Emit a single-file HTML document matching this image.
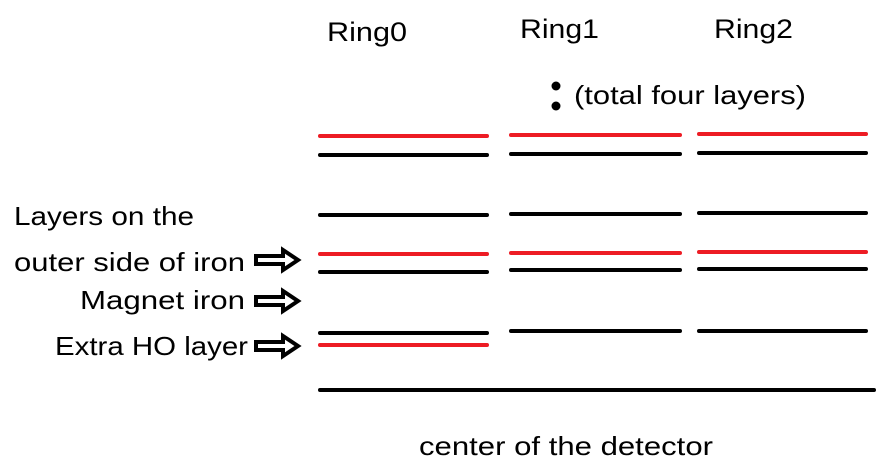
<!DOCTYPE html>
<html><head><meta charset="utf-8"><style>
html,body{margin:0;padding:0;background:#fff;}
svg{display:block;font-family:"Liberation Sans","DejaVu Sans",sans-serif;}
</style></head><body>
<svg id="c" width="890" height="474" viewBox="0 0 890 474">
<text x="327" y="41" font-size="27" textLength="80" lengthAdjust="spacingAndGlyphs">Ring0</text>
<text x="520" y="38" font-size="27" textLength="79" lengthAdjust="spacingAndGlyphs">Ring1</text>
<text x="714" y="38" font-size="27" textLength="79" lengthAdjust="spacingAndGlyphs">Ring2</text>
<circle cx="556" cy="86" r="4.5" fill="#000"/>
<circle cx="556" cy="106" r="4.5" fill="#000"/>
<text x="574" y="104" font-size="26" textLength="232" lengthAdjust="spacingAndGlyphs">(total four layers)</text>
<text x="14" y="225" font-size="26" textLength="180" lengthAdjust="spacingAndGlyphs">Layers on the</text>
<text x="14" y="271" font-size="26" textLength="231" lengthAdjust="spacingAndGlyphs">outer side of iron</text>
<text x="80" y="309" font-size="26" textLength="165" lengthAdjust="spacingAndGlyphs">Magnet iron</text>
<text x="55" y="355" font-size="26" textLength="193" lengthAdjust="spacingAndGlyphs">Extra HO layer</text>
<text x="419" y="455" font-size="26" textLength="294" lengthAdjust="spacingAndGlyphs">center of the detector</text>
<g id="arrows"></g>
<g id="layers"></g>
<line x1="320" y1="390" x2="874" y2="390" stroke="#000" stroke-width="4" stroke-linecap="round"/>
</svg>
<script>
const ringNames = ['ring0','ring1','ring2'];
const ringX0 = [320, 511, 699];
const ringX1 = [487, 680, 866];
const layerColors = ['red','black','black','red','black','black','red'];
const ring0Y = [136, 155, 215, 254, 272, 333, 345];
const ring1Y = [135, 154, 214, 253, 270, 331];
const ring2Y = [134, 153, 213, 252, 269, 331];
const arrowY = [260, 301, 346];
const ns='http://www.w3.org/2000/svg';
const L=document.getElementById('layers');
[ring0Y,ring1Y,ring2Y].forEach((ys,r)=>{
  ys.forEach((y,i)=>{
    const l=document.createElementNS(ns,'line');
    l.setAttribute('x1',ringX0[r]);l.setAttribute('x2',ringX1[r]);
    l.setAttribute('y1',y);l.setAttribute('y2',y);
    l.setAttribute('stroke',layerColors[i]==='red'?'#ed1c24':'#000');
    l.setAttribute('stroke-width','4');l.setAttribute('stroke-linecap','round');
    
    
    L.appendChild(l);
  });
});
const A=document.getElementById('arrows');
arrowY.forEach((y,i)=>{
  const p=document.createElementNS(ns,'polygon');
  const pts=[[256,y-4],[283,y-4],[283,y-10],[298,y],[283,y+10],[283,y+4],[256,y+4]];
  p.setAttribute('points',pts.map(q=>q.join(',')).join(' '));
  p.setAttribute('fill','#fff');p.setAttribute('stroke','#000');p.setAttribute('stroke-width','4');
  
  
  A.appendChild(p);
});
</script>
</body></html>
